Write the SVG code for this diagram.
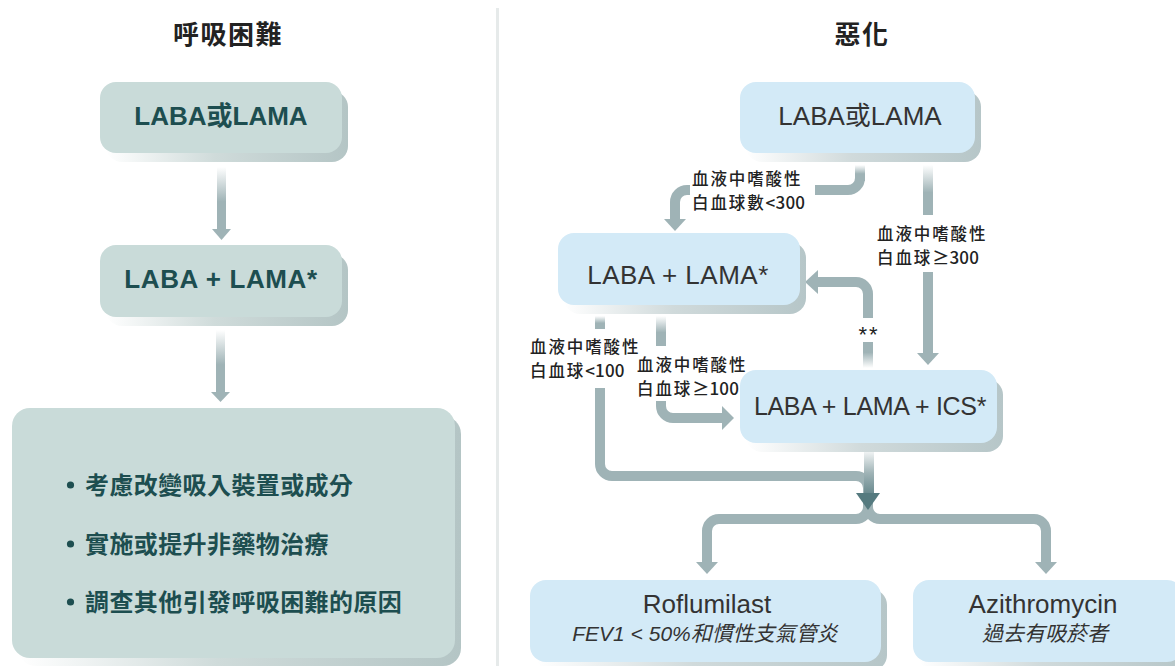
<svg xmlns="http://www.w3.org/2000/svg" width="1175" height="666" viewBox="0 0 1175 666">
<style>
  .title{font-family:"Noto Sans CJK TC","Liberation Sans",sans-serif;font-size:26px;font-weight:700;fill:#222;text-anchor:middle;letter-spacing:1.5px}
  .lbox{fill:#c9dbd9}
  .rbox{fill:#d3eaf7}
  .lsh{fill:url(#lshg)}
  .rsh{fill:url(#rshg)}
  .ltxt{font-family:"Liberation Sans","Noto Sans CJK TC",sans-serif;font-size:26px;font-weight:600;fill:#1d4e50;text-anchor:middle}
  .lbul{font-family:"Noto Sans CJK TC",sans-serif;font-size:24px;font-weight:700;fill:#1d4e50;letter-spacing:0.4px}
  .rtxt{font-family:"Liberation Sans","Noto Sans CJK TC",sans-serif;font-size:26px;fill:#333;text-anchor:middle}
  .rsub{font-family:"Liberation Sans","Noto Sans CJK TC",sans-serif;font-size:21px;font-style:italic;fill:#333;text-anchor:middle}
  .lab{font-family:"Noto Sans CJK TC","Liberation Sans",sans-serif;font-size:16.5px;font-weight:500;fill:#222;letter-spacing:1.9px}
  .num{font-size:17px;letter-spacing:0.2px}
  .con{fill:none;stroke:#9fb3b6;stroke-width:10}
  .head{fill:#9fb3b6}
  .solid{fill:#9fb3b6}
</style>
<defs>
  <linearGradient id="lshg" x1="0" y1="0" x2="1" y2="0">
    <stop offset="0" stop-color="#ffffff"/>
    <stop offset="0.45" stop-color="#cfdbda"/>
    <stop offset="1" stop-color="#b4c5c5"/>
  </linearGradient>
  <linearGradient id="rshg" x1="0" y1="0" x2="1" y2="0">
    <stop offset="0" stop-color="#ffffff"/>
    <stop offset="0.45" stop-color="#d0dadb"/>
    <stop offset="1" stop-color="#b6c6c8"/>
  </linearGradient>
  <linearGradient id="fadeDown" x1="0" y1="0" x2="0" y2="1">
    <stop offset="0" stop-color="#ffffff"/>
    <stop offset="0.55" stop-color="#9fb3b6"/>
    <stop offset="1" stop-color="#9fb3b6"/>
  </linearGradient>
  <linearGradient id="fadeUp" x1="0" y1="1" x2="0" y2="0">
    <stop offset="0" stop-color="#ffffff"/>
    <stop offset="0.6" stop-color="#9fb3b6"/>
    <stop offset="1" stop-color="#9fb3b6"/>
  </linearGradient>
  <linearGradient id="fadeDark" x1="0" y1="0" x2="0" y2="1">
    <stop offset="0" stop-color="#ffffff"/>
    <stop offset="0.5" stop-color="#9fb3b6"/>
    <stop offset="1" stop-color="#5f8287"/>
  </linearGradient>
</defs>
<rect width="1175" height="666" fill="#ffffff"/>

<!-- divider -->
<rect x="496" y="8" width="3" height="658" fill="#e6eaea"/>

<!-- titles -->
<text class="title" x="228" y="44">呼吸困難</text>
<text class="title" x="862" y="44">惡化</text>

<!-- connectors -->
<g id="connectors">
  <!-- left column -->
  <rect x="217" y="167" width="9" height="63" fill="url(#fadeDown)"/>
  <polygon class="head" points="212,229 231,229 221.5,240"/>
  <rect x="216" y="330" width="9" height="63" fill="url(#fadeDown)"/>
  <polygon class="head" points="211,392 230,392 220.5,402"/>

  <!-- R1 to R2 -->
  <rect x="855" y="165" width="10" height="16" fill="url(#fadeDown)"/>
  <path class="con" d="M860,178 A12,12 0 0 1 848,190 H815"/>
  <path class="con" d="M690,190 H687 A12,12 0 0 0 675,202 V220"/>
  <polygon class="head" points="664,219 686,219 675,231"/>

  <!-- R1 to R3 -->
  <rect x="923" y="165" width="10" height="50" fill="url(#fadeDown)"/>
  <rect x="923" y="272" width="10" height="82" class="solid"/>
  <polygon class="head" points="917,353 939,353 928,365"/>

  <!-- R3 to R2 (**) -->
  <rect x="863" y="342" width="10" height="26" fill="url(#fadeUp)"/>
  <path class="con" d="M868,318 V294 A12,12 0 0 0 856,282 H816"/>
  <polygon class="head" points="818,270 818,294 805,282"/>

  <!-- R2 to R3 (>=100) -->
  <rect x="656" y="316" width="10" height="30" fill="url(#fadeDown)"/>
  <path class="con" d="M661,401 V406 A12,12 0 0 0 673,418 H724"/>
  <polygon class="head" points="722,406 722,430 734,418"/>

  <!-- split to R4 / R5 -->
  <path class="con" d="M868,500 V507 A12,12 0 0 1 856,519 H719 A12,12 0 0 0 707,531 V563"/>
  <path class="con" d="M868,500 V507 A12,12 0 0 0 880,519 H1034 A12,12 0 0 1 1046,531 V563"/>
  <polygon class="head" points="696,562 718,562 707,574"/>
  <polygon class="head" points="1035,562 1057,562 1046,574"/>

  <!-- R2 to merge (<100) -->
  <rect x="595" y="316" width="10" height="13" fill="url(#fadeDown)"/>
  <path class="con" d="M600,388 V464 A12,12 0 0 0 612,476 H856 A12,12 0 0 1 868,488 V495"/>

  <!-- R3 to merge -->
  <rect x="864" y="448" width="10" height="50" fill="url(#fadeDark)"/>
  <polygon points="856,493 880,493 868,510" fill="#557a7f"/>
</g>

<!-- labels -->
<g id="labels">
  <text class="lab" x="692" y="185">血液中嗜酸性<tspan x="692" dy="24">白血球數</tspan><tspan class="num">&lt;300</tspan></text>
  <text class="lab" x="877" y="240">血液中嗜酸性<tspan x="877" dy="24">白血球</tspan><tspan class="num">≥300</tspan></text>
  <text class="lab" x="530" y="353">血液中嗜酸性<tspan x="530" dy="24">白血球</tspan><tspan class="num">&lt;100</tspan></text>
  <text class="lab" x="637" y="371">血液中嗜酸性<tspan x="637" dy="24">白血球</tspan><tspan class="num">≥100</tspan></text>
  <text class="lab" x="869" y="342" text-anchor="middle" style="font-family:'Liberation Sans',sans-serif;font-size:22px;letter-spacing:2px">**</text>
</g>

<!-- left nodes -->
<g id="L1">
  <rect class="lsh" x="106" y="91" width="242" height="71" rx="16"/>
  <rect class="lbox" x="100" y="82" width="242" height="71" rx="16"/>
  <text class="ltxt" x="221" y="125">LABA或LAMA</text>
</g>
<g id="L2">
  <rect class="lsh" x="106" y="254" width="242" height="72" rx="16"/>
  <rect class="lbox" x="100" y="245" width="242" height="72" rx="16"/>
  <text class="ltxt" x="221" y="288" style="letter-spacing:0.6px">LABA + LAMA*</text>
</g>
<g id="L3">
  <rect class="lsh" x="18" y="416" width="443" height="250" rx="18"/>
  <rect class="lbox" x="12" y="408" width="443" height="250" rx="18"/>
  <circle cx="70.5" cy="485" r="3.6" fill="#1d4e50"/>
  <circle cx="70.5" cy="544" r="3.6" fill="#1d4e50"/>
  <circle cx="70.5" cy="602" r="3.6" fill="#1d4e50"/>
  <text class="lbul" x="85" y="494">考慮改變吸入裝置或成分</text>
  <text class="lbul" x="85" y="553">實施或提升非藥物治療</text>
  <text class="lbul" x="85" y="611">調查其他引發呼吸困難的原因</text>
</g>

<!-- right nodes -->
<g id="R1">
  <rect class="rsh" x="746" y="91" width="235" height="71" rx="16"/>
  <rect class="rbox" x="740" y="82" width="235" height="71" rx="16"/>
  <text class="rtxt" x="860" y="125">LABA或LAMA</text>
</g>
<g id="R2">
  <rect class="rsh" x="564" y="242" width="242" height="72" rx="16"/>
  <rect class="rbox" x="558" y="233" width="242" height="72" rx="16"/>
  <text class="rtxt" x="678" y="284" style="letter-spacing:0.5px">LABA + LAMA*</text>
</g>
<g id="R3">
  <rect class="rsh" x="746" y="379" width="257" height="73" rx="16"/>
  <rect class="rbox" x="740" y="370" width="257" height="73" rx="16"/>
  <text class="rtxt" x="870" y="415" style="font-size:25px;letter-spacing:-0.3px">LABA + LAMA + ICS*</text>
</g>
<g id="R4">
  <rect class="rsh" x="536" y="589" width="351" height="82" rx="16"/>
  <rect class="rbox" x="530" y="580" width="351" height="82" rx="16"/>
  <text class="rtxt" x="707" y="613">Roflumilast</text>
  <text class="rsub" x="705" y="641">FEV1 &lt; 50%和慣性支氣管炎</text>
</g>
<g id="R5">
  <rect class="rsh" x="919" y="589" width="270" height="82" rx="16"/>
  <rect class="rbox" x="913" y="580" width="270" height="82" rx="16"/>
  <text class="rtxt" x="1043" y="613">Azithromycin</text>
  <text class="rsub" x="1045" y="641">過去有吸菸者</text>
</g>
</svg>
